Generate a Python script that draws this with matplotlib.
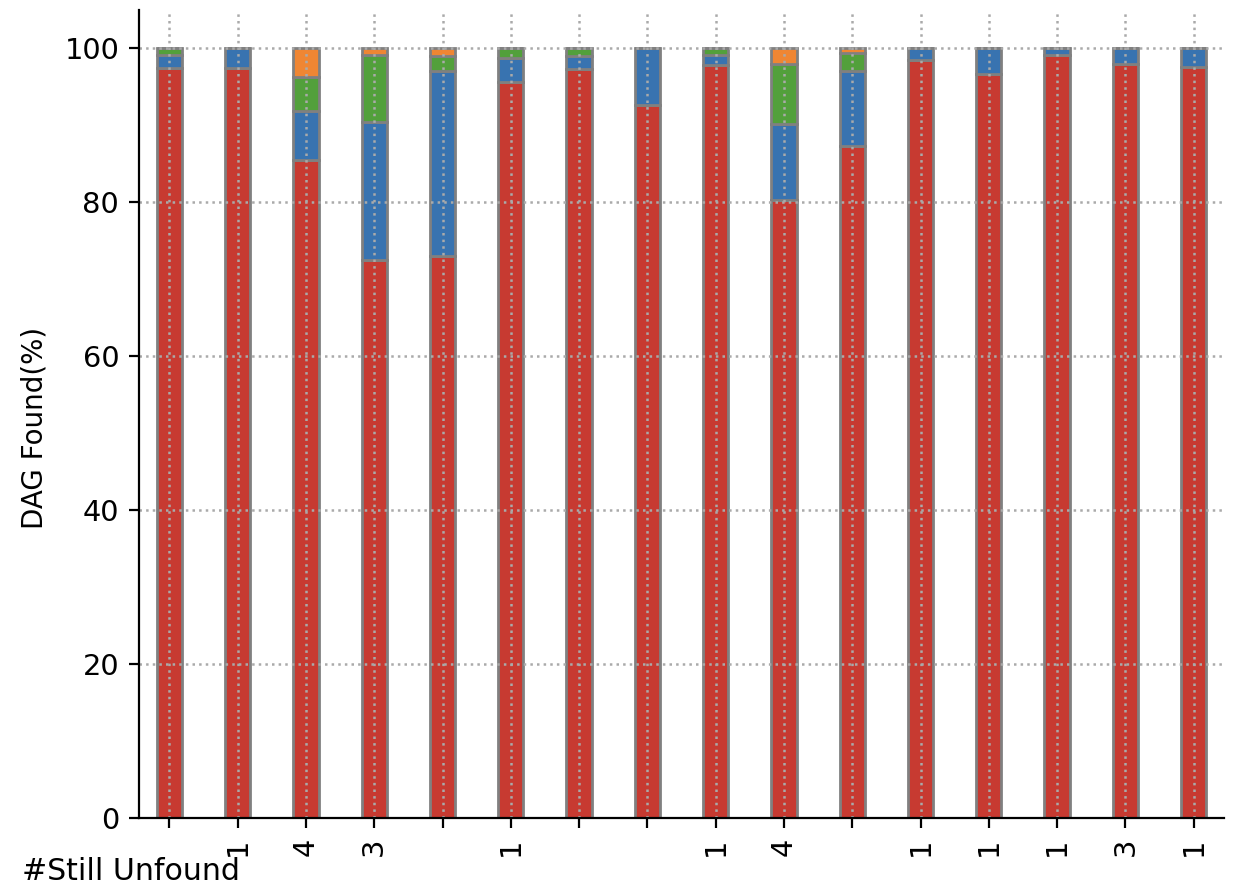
import matplotlib
matplotlib.use("Agg")
import matplotlib.pyplot as plt
import numpy as np

positions = list(range(1, 17))
tick_labels = ["", "1", "4", "3", "", "1", "", "", "1", "4", "", "1", "1", "1", "3", "1"]
red = [97.4, 97.4, 85.5, 72.5, 73.0, 95.6, 97.3, 92.6, 97.8, 80.3, 87.3, 98.5, 96.7, 99.2, 98.0, 97.6]
blue = [1.8, 2.6, 6.4, 17.9, 24.1, 3.1, 1.7, 7.4, 1.3, 9.9, 9.8, 1.5, 3.3, 0.8, 2.0, 2.4]
green = [0.8, 0.0, 4.4, 8.7, 1.9, 1.3, 1.0, 0.0, 0.9, 7.8, 2.3, 0.0, 0.0, 0.0, 0.0, 0.0]
orange = [0.0, 0.0, 3.7, 0.9, 1.0, 0.0, 0.0, 0.0, 0.0, 2.0, 0.6, 0.0, 0.0, 0.0, 0.0, 0.0]

series = [red, blue, green, orange]
colors = ["#c73a31", "#3873b0", "#52a03b", "#ef8633"]

fig = plt.figure(figsize=(6.19, 4.43), dpi=200)
ax = fig.add_axes([0.112, 0.0767, 0.877, 0.912])

bottom = np.zeros(len(positions))
for vals, col in zip(series, colors):
    v = np.array(vals)
    ax.bar(positions, v, bottom=bottom, width=0.37, color=col,
           edgecolor="gray", linewidth=1.0, zorder=2)
    bottom += v

ax.set_xlim(0.55, 16.45)
ax.set_ylim(0, 105)
ax.set_yticks([0, 20, 40, 60, 80, 100])
ax.set_xticks(positions)
ax.set_xticklabels(tick_labels, rotation=90)
ax.tick_params(labelsize=10.4)
ax.grid(True, linestyle=":", color="#aaaaaa", linewidth=0.9, zorder=3)
ax.set_axisbelow(False)
for s in ["top", "right"]:
    ax.spines[s].set_visible(False)
for s in ["left", "bottom"]:
    ax.spines[s].set_zorder(5)
ax.set_ylabel("DAG Found(%)")
ax.yaxis.set_label_coords(-0.083, 0.483)
fig.text(0.018, 0.016, "#Still Unfound", ha="left", va="center", fontsize=10.8)

fig.savefig("out.png", dpi=200)
